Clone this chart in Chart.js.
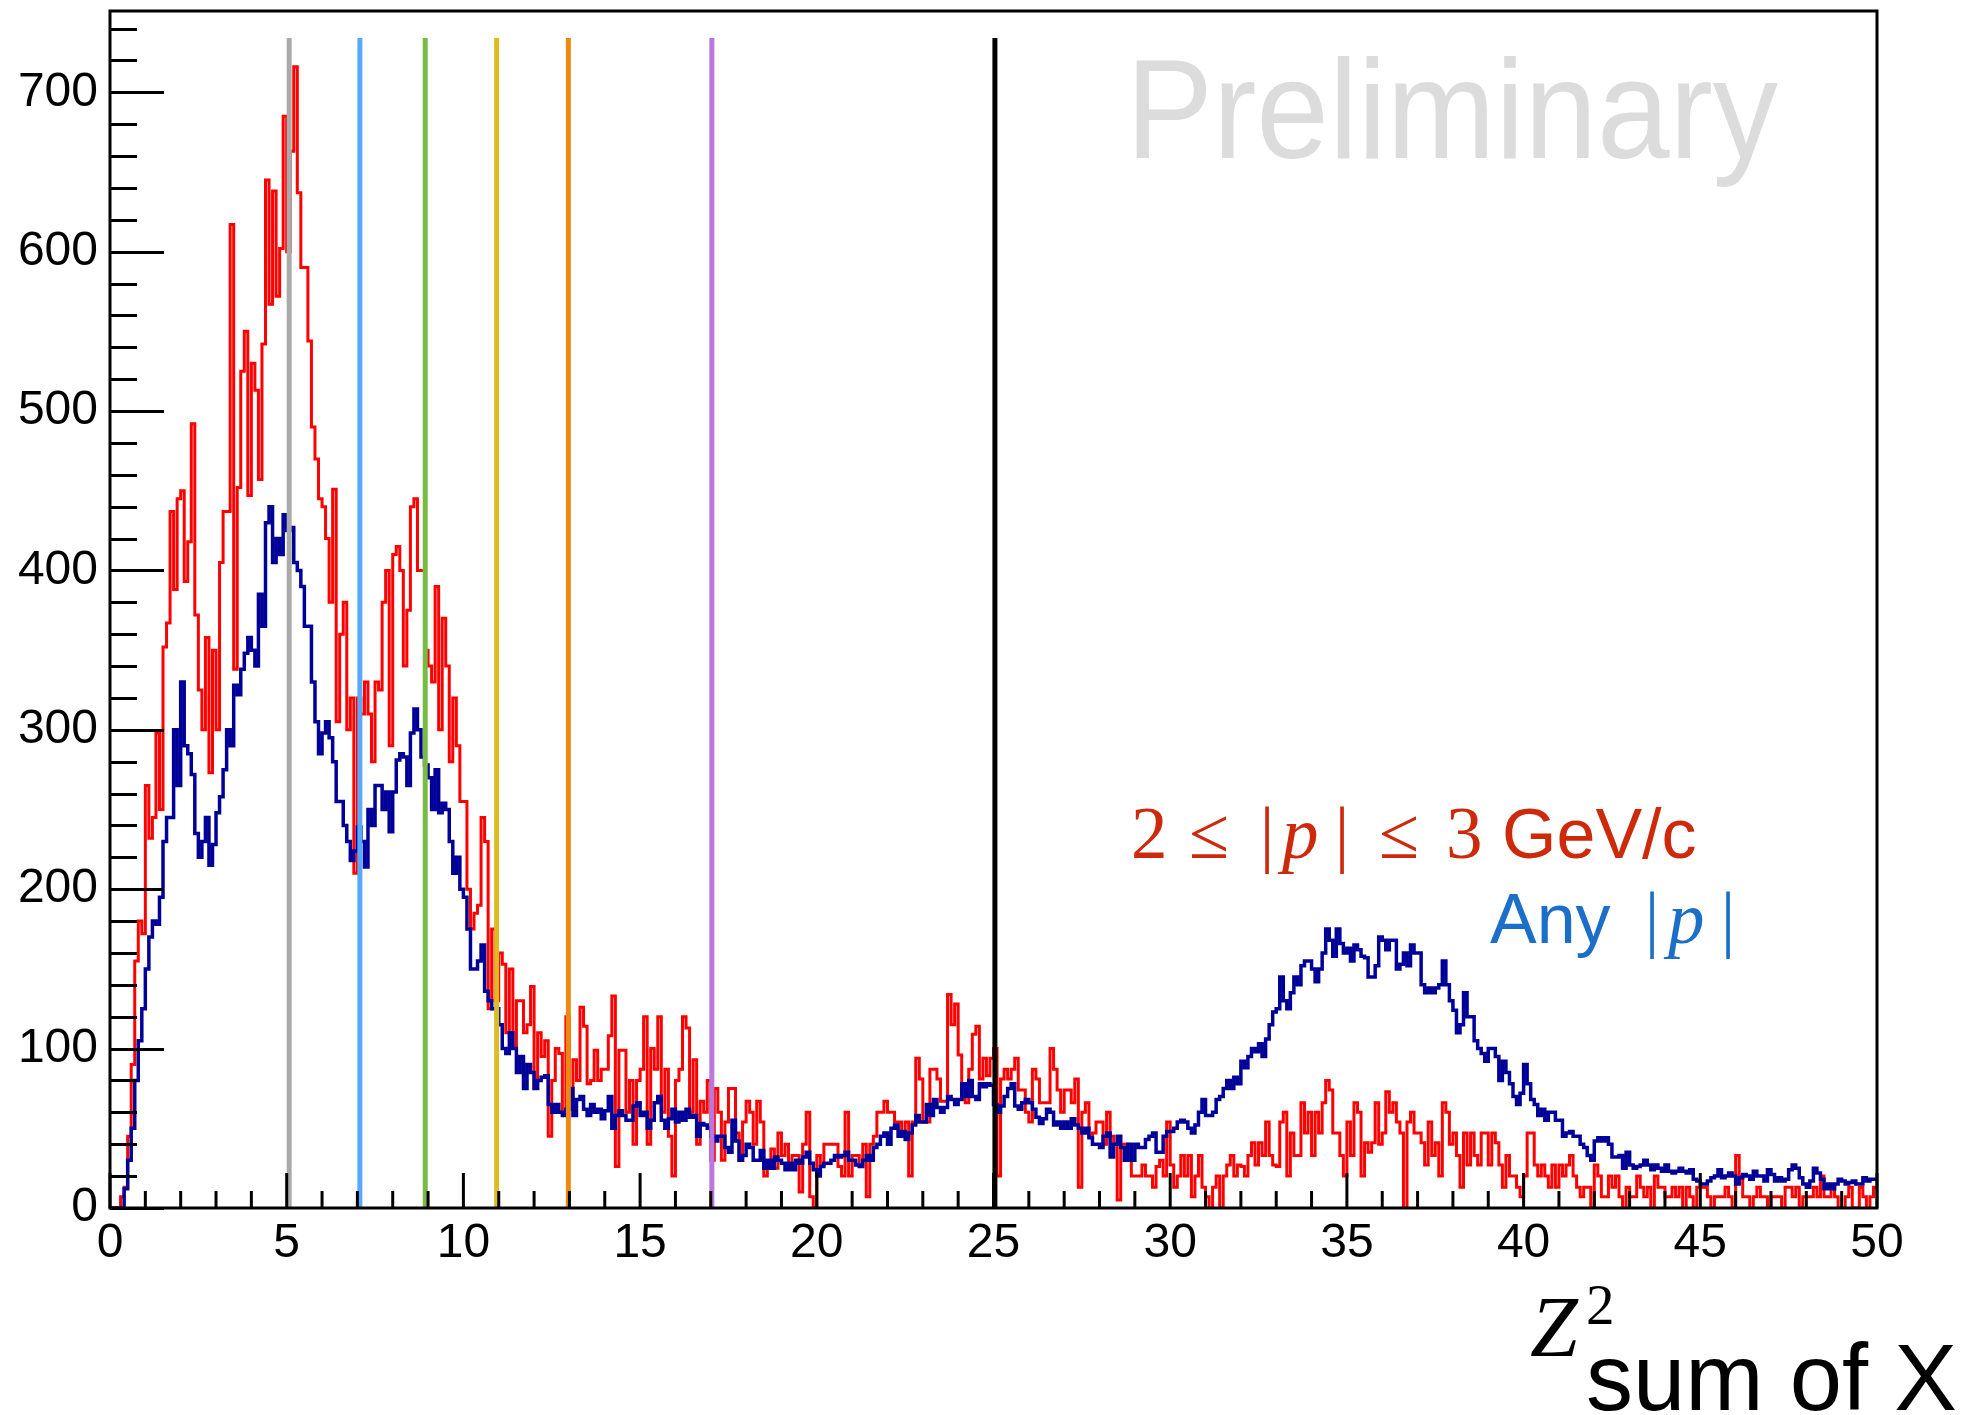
<!DOCTYPE html>
<html>
<head>
<meta charset="utf-8">
<script src="https://cdn.jsdelivr.net/npm/chart.js@4.4.0/dist/chart.umd.min.js"></script>
<style>
  body { margin: 0; background: #fff; }
  #wrap { width: 1977px; height: 1415px; }
</style>
</head>
<body>
<div id="wrap"><canvas id="c" width="1977" height="1415"></canvas></div>
<script>
// Histogram binning (0 .. 50, 500 bins)
var xMin = 0;
var xMax = 50;
var binWidth = 0.1;

// "Any |p|" counts per bin
var anyP = [
  0,0,0,0,12,30,50,80,105,125,
  150,170,180,178,195,230,245,245,300,265,
  330,290,285,272,235,220,230,245,215,228,
  248,258,275,300,290,328,322,338,348,358,
  350,340,385,365,430,440,405,420,410,435,
  425,427,405,400,390,365,365,330,305,285,
  298,305,295,280,255,255,240,230,218,224,
  239,230,214,250,240,265,265,250,261,236,
  261,281,285,283,265,298,313,300,283,278,
  270,250,275,248,254,250,230,210,220,200,
  195,175,150,150,155,165,136,130,125,125,
  115,100,97,110,100,85,95,75,90,85,
  75,80,82,83,65,60,65,60,58,62,
  75,58,68,70,62,58,65,60,62,56,
  61,70,50,58,61,58,55,55,64,66,
  58,60,50,55,66,70,55,50,56,62,
  54,60,55,62,57,58,45,53,52,50,
  45,42,45,45,38,35,55,42,30,33,
  40,38,30,30,36,25,30,25,32,30,
  28,24,28,24,30,28,32,35,28,24,
  20,26,28,28,30,33,32,33,35,30,
  30,27,26,30,33,30,38,40,45,47,
  40,50,52,45,48,43,47,52,58,54,
  54,65,58,68,63,60,63,70,68,65,
  68,78,70,80,70,68,78,76,78,77,
  65,60,64,70,75,78,64,62,66,68,
  66,62,57,53,56,62,60,52,54,50,
  54,50,56,52,50,47,50,44,40,40,
  38,45,47,32,40,45,38,30,40,30,
  40,38,38,43,45,47,35,35,45,48,
  48,50,54,55,54,50,47,52,60,68,
  58,58,60,68,70,75,80,75,82,78,
  92,88,95,100,98,103,95,106,115,123,
  125,145,130,125,135,145,140,152,155,155,
  150,142,150,160,175,168,158,175,166,160,
  163,155,165,162,158,157,145,145,152,170,
  168,162,168,168,150,153,160,152,165,160,
  160,140,135,138,135,138,140,155,140,130,
  124,110,115,135,120,120,105,100,97,92,
  100,100,95,80,92,85,78,70,65,72,
  90,78,68,65,58,62,55,60,60,55,
  55,45,47,48,45,45,40,38,33,30,
  42,44,42,44,40,32,32,33,25,35,
  27,25,26,27,30,27,24,27,25,23,
  27,23,22,23,25,23,22,24,18,17,
  15,15,17,19,20,24,19,20,22,20,
  15,19,21,20,18,23,20,20,17,24,
  21,17,19,17,18,24,27,25,19,15,
  13,17,25,22,18,12,15,12,15,18,
  17,15,16,17,15,15,19,17,18,18
];

// "2 <= |p| <= 3 GeV/c" counts per bin
var midP = [
  0,0,0,7,13,45,90,155,180,172,
  265,232,245,298,250,352,367,437,388,445,
  450,393,418,492,372,325,300,358,273,350,
  300,405,437,437,617,338,452,525,550,447,
  530,513,457,542,645,567,638,572,602,685,
  600,663,716,637,590,590,544,490,470,445,
  440,420,380,451,305,360,380,300,320,210,
  320,310,330,310,280,330,325,380,400,290,
  410,415,400,340,375,440,445,400,400,350,
  340,330,390,300,370,340,280,320,290,255,
  255,200,175,185,190,245,230,125,175,130,
  160,153,110,150,100,130,130,110,115,139,
  75,110,95,105,45,80,100,97,60,120,
  70,93,80,126,114,78,80,99,80,87,
  87,108,133,26,99,99,60,80,40,80,
  87,120,40,100,87,120,60,87,45,20,
  80,87,120,113,60,93,40,67,60,80,
  30,75,60,30,54,75,75,47,30,54,
  67,60,40,67,54,20,25,37,25,47,
  33,40,26,33,33,10,40,60,7,0,
  33,27,40,40,40,40,26,20,60,20,
  33,33,27,40,7,40,45,60,60,67,
  60,60,54,54,47,54,20,54,94,81,
  54,54,87,87,81,67,67,134,115,128,
  96,68,66,87,109,114,81,94,83,94,
  100,20,81,87,81,87,94,74,74,60,
  54,87,81,66,66,66,100,87,74,60,
  74,74,66,81,13,60,66,45,47,54,
  54,40,60,45,40,5,40,40,33,20,
  20,20,27,20,20,13,26,30,20,54,
  27,13,20,33,20,33,7,20,33,13,
  7,0,13,20,0,20,27,33,20,27,
  26,20,33,41,27,41,33,54,33,27,
  26,54,60,20,47,33,33,66,47,60,
  33,60,47,66,80,74,47,47,33,20,
  54,33,66,60,20,41,35,41,66,40,
  47,73,60,66,54,47,0,54,60,47,
  47,41,27,54,33,41,20,66,60,40,
  47,33,13,47,27,47,33,27,47,47,
  27,47,41,27,13,33,20,20,13,7,
  20,47,47,27,20,27,20,13,27,13,
  27,20,27,33,20,13,7,13,13,0,
  27,20,7,7,20,13,20,7,0,13,
  7,7,20,13,7,13,0,20,13,13,
  7,7,13,7,13,0,13,7,0,13,
  13,13,7,0,7,7,7,13,7,0,
  33,20,7,7,0,7,13,7,7,0,
  7,7,7,0,13,13,7,13,0,7,
  7,7,13,7,20,7,7,13,7,0,
  0,7,13,0,0,13,7,0,7,13
];

// Vertical marker lines
var markerX = [5.07, 7.07, 8.92, 10.94, 12.97, 17.03, 25.04];
var markerColors = ['#aaaaaa', '#55aaff', '#77bb44', '#ddbb22', '#ee8811', '#bb77dd', '#000000'];
var markerTop = 734;

// Axis range and ticks
var yMax = 751;
var yMajorStep = 100;
var yMinorStep = 20;
var xMajorStep = 5;
var xMinorStep = 1;

function toSteps(vals) {
    var pts = [];
    vals.forEach(function(v, i) {
        pts.push({ x: xMin + i * binWidth, y: v });
    });
    pts.push({ x: xMax, y: vals[vals.length - 1] });
    return pts;
}

var SANS = '"Liberation Sans", Arial, sans-serif';
var SERIF = '"Liberation Serif", "Times New Roman", serif';

var decor = {
    id: 'decor',
    beforeDatasetsDraw: function(chart) {
        var ctx = chart.ctx;
        ctx.save();
        ctx.fillStyle = '#dcdcdc';
        ctx.font = '141px ' + SANS;
        ctx.textBaseline = 'alphabetic';
        ctx.textAlign = 'left';
        ctx.fillText('Preliminary', 1126, 158, 652);
        ctx.restore();
    },
    afterDatasetsDraw: function(chart) {
        var ctx = chart.ctx;
        var xs = chart.scales.x, ys = chart.scales.y;
        ctx.save();
        ctx.lineWidth = 5;
        ctx.lineCap = 'butt';
        markerX.forEach(function(x, i) {
            var px = xs.getPixelForValue(x);
            ctx.strokeStyle = markerColors[i];
            ctx.beginPath();
            ctx.moveTo(px, ys.getPixelForValue(markerTop));
            ctx.lineTo(px, ys.getPixelForValue(0));
            ctx.stroke();
        });
        ctx.restore();
    },
    afterDraw: function(chart) {
        var ctx = chart.ctx;
        var a = chart.chartArea;
        var xs = chart.scales.x, ys = chart.scales.y;
        ctx.save();
        ctx.strokeStyle = '#000';
        ctx.lineWidth = 3;
        ctx.strokeRect(a.left, a.top, a.right - a.left, a.bottom - a.top);

        // y ticks (inside the frame)
        for (var v = 0; v <= yMax; v += yMinorStep) {
            var py = Math.round(ys.getPixelForValue(v)) + 0.5;
            var len = (v % yMajorStep === 0) ? 54 : 27;
            ctx.beginPath();
            ctx.moveTo(a.left, py);
            ctx.lineTo(a.left + len, py);
            ctx.stroke();
        }
        // x ticks
        for (var u = xMin; u <= xMax; u += xMinorStep) {
            var px = xs.getPixelForValue(u);
            var l2 = (u % xMajorStep === 0) ? 35 : 17;
            ctx.beginPath();
            ctx.moveTo(px, a.bottom);
            ctx.lineTo(px, a.bottom - l2);
            ctx.stroke();
        }

        // labels for the two selections
        ctx.textBaseline = 'alphabetic';
        ctx.fillStyle = '#cc2a0a';
        ctx.textAlign = 'left';
        ctx.font = '73px ' + SERIF;
        ctx.fillText('2', 1131, 858);
        ctx.fillText('\u2264', 1189, 858);
        ctx.fillText('\u2264', 1379, 858);
        ctx.fillText('3', 1446, 858);
        ctx.textAlign = 'center';
        ctx.fillText('|', 1267, 858);
        ctx.fillText('|', 1342, 858);
        ctx.textAlign = 'left';
        ctx.font = 'italic 73px ' + SERIF;
        ctx.fillText('p', 1282, 858);
        ctx.font = '70px ' + SANS;
        ctx.fillText('GeV/c', 1502, 858);

        ctx.fillStyle = '#1c6fc7';
        ctx.font = '70px ' + SANS;
        ctx.fillText('Any', 1490, 943);
        ctx.font = '73px ' + SERIF;
        ctx.textAlign = 'center';
        ctx.fillText('|', 1652, 943);
        ctx.fillText('|', 1728, 943);
        ctx.textAlign = 'left';
        ctx.font = 'italic 73px ' + SERIF;
        ctx.fillText('p', 1668, 943);

        // x axis title
        ctx.fillStyle = '#000';
        ctx.font = 'italic 86px ' + SERIF;
        ctx.fillText('Z', 1530, 1356);
        ctx.font = '57px ' + SERIF;
        ctx.fillText('2', 1586, 1324);
        ctx.font = '94px ' + SANS;
        ctx.fillText('sum of X', 1586, 1410);
        ctx.restore();
    }
};

new Chart(document.getElementById('c'), {
    type: 'line',
    data: {
        datasets: [
            {
                label: 'Any |p|',
                data: toSteps(anyP),
                stepped: 'before',
                borderColor: '#000099',
                borderWidth: 3.5,
                pointRadius: 0,
                fill: false,
                borderJoinStyle: 'miter'
            },
            {
                label: '2 <= |p| <= 3 GeV/c',
                data: toSteps(midP),
                stepped: 'before',
                borderColor: '#ff0000',
                borderWidth: 3,
                pointRadius: 0,
                fill: false,
                borderJoinStyle: 'miter'
            }
        ]
    },
    options: {
        responsive: false,
        animation: false,
        devicePixelRatio: 1,
        layout: { padding: { top: 11, right: 100, left: 0, bottom: 0 } },
        plugins: { legend: { display: false }, tooltip: { enabled: false } },
        scales: {
            x: {
                type: 'linear',
                min: xMin,
                max: xMax,
                grid: { display: false, drawTicks: false },
                border: { display: false },
                ticks: {
                    stepSize: xMajorStep,
                    padding: 7,
                    maxRotation: 0,
                    color: '#000',
                    font: { family: 'Liberation Sans', size: 48 }
                },
                afterFit: function(s) {
                    s.height = 207;
                    s.paddingLeft = 0;
                    s.paddingRight = 0;
                }
            },
            y: {
                min: 0,
                max: yMax,
                grid: { display: false, drawTicks: false },
                border: { display: false },
                ticks: {
                    stepSize: yMajorStep,
                    includeBounds: false,
                    padding: 12,
                    color: '#000',
                    font: { family: 'Liberation Sans', size: 48 },
                    callback: function(v) { return v % yMajorStep === 0 ? v : ''; }
                },
                afterFit: function(s) {
                    s.width = 110;
                    s.paddingTop = 0;
                    s.paddingBottom = 0;
                }
            }
        }
    },
    plugins: [decor]
});
</script>
</body>
</html>
